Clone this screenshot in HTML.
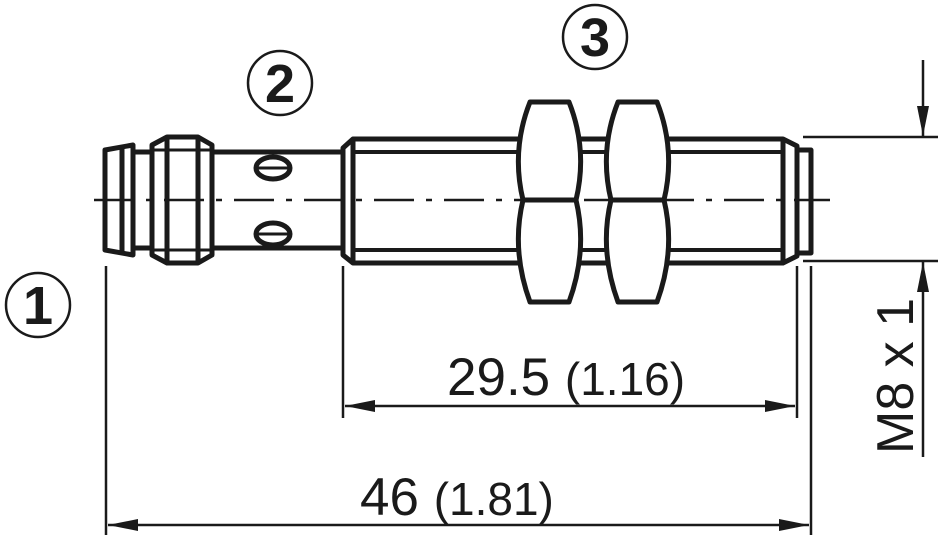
<!DOCTYPE html>
<html><head><meta charset="utf-8"><style>html,body{margin:0;padding:0;background:#fff}svg{display:block}</style></head>
<body>
<svg width="940" height="539" viewBox="0 0 940 539" xmlns="http://www.w3.org/2000/svg">
<defs>
<marker id="a" viewBox="0 0 30 12" refX="30" refY="6" markerWidth="30" markerHeight="12" markerUnits="userSpaceOnUse" orient="auto-start-reverse"><path d="M0,0 L30,6 L0,12 z" fill="#1a1a1a"/></marker>
</defs>
<g fill="none" stroke="#1a1a1a" stroke-width="5" stroke-linejoin="round">
<path d="M105,150 L133,145 L133,255 L105,250 Z"/>
<line x1="122" y1="147" x2="122" y2="253"/>
<path d="M133,152 L152,152 M133,248 L152,248"/>
<path d="M152,145 L167,137 L198,137 L212,145 L212,255 L198,263 L167,263 L152,255 Z"/>
<line x1="167" y1="137" x2="167" y2="263"/>
<line x1="198" y1="137" x2="198" y2="263"/>
<path d="M152,150 L212,150 M152,250 L212,250" stroke-width="3"/>
<path d="M212,152 L343,152 M212,248 L343,248"/>
<ellipse cx="273" cy="168" rx="17" ry="11"/>
<ellipse cx="273" cy="234" rx="17" ry="11"/>
<path d="M258,168 L288,168 M258,234 L288,234" stroke-width="3"/>
<path d="M343,148 L353,139 L783,139 L797,146 L797,256 L783,263 L353,263 L343,255 Z"/>
<line x1="353" y1="139" x2="353" y2="263"/>
<path d="M353,152 L783,152 M353,250 L783,250" stroke-width="4"/>
<line x1="783" y1="139" x2="783" y2="263"/>
<path d="M797,150 L811,150 L811,253 L797,253"/>
<path d="M530,102 L569,102 Q588,150 576,200 Q588,250 569,302 L530,302 Q511,250 523,200 Q511,150 530,102 Z" fill="#fff"/>
<line x1="523" y1="200" x2="576" y2="200"/>
<path d="M618,102 L657,102 Q676,150 664,200 Q676,250 657,302 L618,302 Q599,250 611,200 Q599,150 618,102 Z" fill="#fff"/>
<line x1="611" y1="200" x2="664" y2="200"/>
<path d="M580,139 L606,139 M580,263 L606,263 M580,152 L606,152 M580,250 L606,250" stroke-width="4"/>
</g>
<line x1="94" y1="200" x2="830" y2="200" stroke="#1a1a1a" stroke-width="2.5" stroke-dasharray="40,12,6,12"/>
<g stroke="#1a1a1a" stroke-width="2.5" fill="none">
<line x1="106" y1="266" x2="106" y2="535"/>
<line x1="343" y1="266" x2="343" y2="418"/>
<line x1="797" y1="266" x2="797" y2="418"/>
<line x1="811" y1="266" x2="811" y2="535"/>
<line x1="345" y1="406" x2="795" y2="406" marker-start="url(#a)" marker-end="url(#a)"/>
<line x1="108" y1="525" x2="809" y2="525" marker-start="url(#a)" marker-end="url(#a)"/>
<line x1="803" y1="137" x2="938" y2="137"/>
<line x1="803" y1="261" x2="938" y2="261"/>
<line x1="923" y1="60" x2="923" y2="136" marker-end="url(#a)"/>
<line x1="923" y1="457" x2="923" y2="262" marker-end="url(#a)"/>
<circle cx="38" cy="305" r="32"/>
<circle cx="280" cy="83" r="32"/>
<circle cx="595" cy="37" r="32"/>
</g>
<g font-family="Liberation Sans, sans-serif" fill="#1a1a1a">
<text x="447" y="395" font-size="53">29.5 <tspan font-size="46">(1.16)</tspan></text>
<text x="360" y="515" font-size="53">46 <tspan font-size="46">(1.81)</tspan></text>
<text transform="translate(913,454) rotate(-90)" font-size="52">M8 x 1</text>
<text x="38" y="324" font-size="54" font-weight="bold" text-anchor="middle">1</text>
<text x="280" y="102" font-size="54" font-weight="bold" text-anchor="middle">2</text>
<text x="595" y="56" font-size="54" font-weight="bold" text-anchor="middle">3</text>
</g>
</svg>
</body></html>
